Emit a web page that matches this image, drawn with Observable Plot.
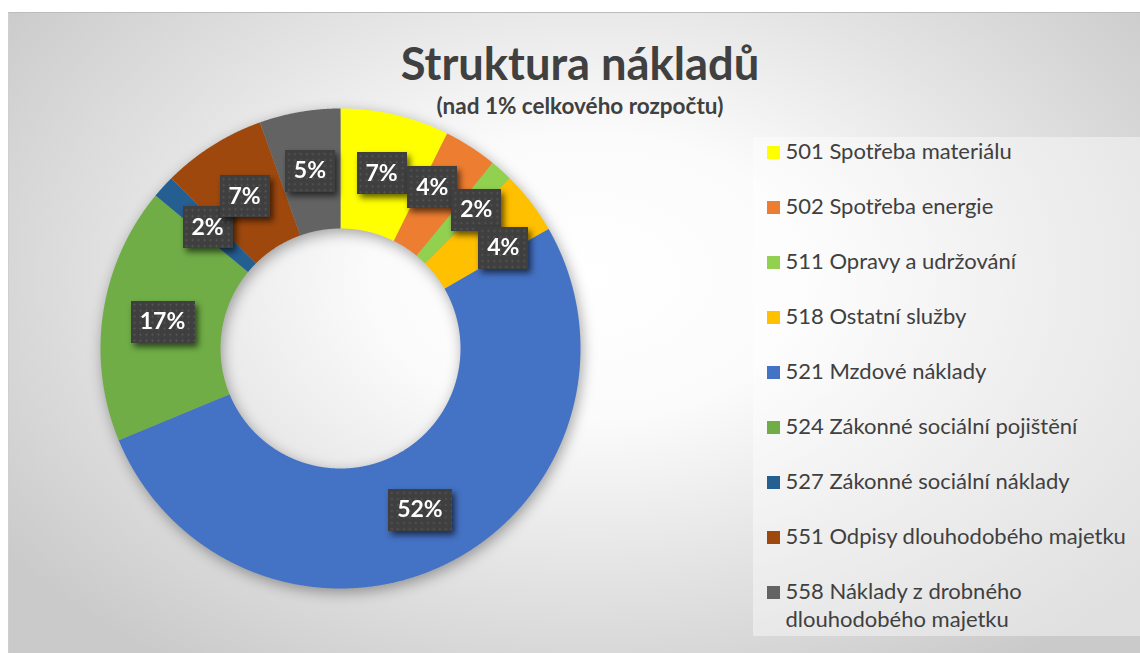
<!DOCTYPE html>
<html>
<head>
<meta charset="utf-8">
<script src="https://cdn.jsdelivr.net/npm/d3@7"></script>
<script src="https://cdn.jsdelivr.net/npm/@observablehq/plot@0.6"></script>
<style>
  html, body { margin: 0; padding: 0; background: #ffffff; }
  #chart { position: relative; width: 1140px; height: 653px; overflow: hidden; font-family: Lato, "Open Sans", sans-serif; }
  #frame {
    position: absolute; left: 8px; top: 12px; width: 1160px; height: 660px;
    border-top: 1px solid #bcbcbc; border-left: 1px solid #cfcfcf;
    background: radial-gradient(ellipse 62% 72% at 50% 40%, #ffffff 0%, #fbfbfb 30%, #e4e4e4 62%, #cacaca 100%);
  }
  #title {
    position: absolute; left: 0; width: 1160px; top: 40px; text-align: center;
    font-weight: 700; font-size: 45.3px; line-height: 1; color: #404040;
  }
  #subtitle {
    position: absolute; left: 0; width: 1160px; top: 95px; text-align: center;
    font-weight: 700; font-size: 22.5px; line-height: 1; color: #404040;
  }
  #donut { position: absolute; left: 80px; top: 88px; }
  #legendbox {
    position: absolute; left: 753px; top: 137px; width: 387px; height: 499px;
    background: rgba(255,255,255,0.42);
  }
  #legendbox svg, #donut svg { display: block; overflow: visible; }
  #donut g[aria-label="line"] { filter: drop-shadow(2px 4px 7px rgba(0,0,0,0.35)); }
</style>
</head>
<body>
<svg width="0" height="0" style="position:absolute">
  <defs>
    <filter id="box2" filterUnits="userSpaceOnUse" primitiveUnits="userSpaceOnUse" x="-40" y="-32" width="90" height="72" color-interpolation-filters="sRGB">
      <feFlood flood-color="#000" flood-opacity="0.6" x="-24.5" y="-20.5" width="49" height="41" result="s0"/>
      <feOffset in="s0" dx="3" dy="4" x="-40" y="-32" width="90" height="72" result="s1"/>
      <feGaussianBlur in="s1" stdDeviation="3" x="-40" y="-32" width="90" height="72" result="sh"/>
      <feFlood flood-color="#3f3f3f" x="-24.5" y="-20.5" width="49" height="41" result="bg"/>
      <feImage href="data:image/svg+xml,%3Csvg xmlns='http://www.w3.org/2000/svg' width='7' height='7'%3E%3Ccircle cx='3.5' cy='3.5' r='1.1' fill='%23585858'/%3E%3C/svg%3E" x="-24.5" y="-20.5" width="7" height="7" result="tile"/>
      <feTile in="tile" x="-24.5" y="-20.5" width="49" height="41" result="dots"/>
      <feMerge x="-40" y="-32" width="90" height="72">
        <feMergeNode in="sh"/><feMergeNode in="bg"/><feMergeNode in="dots"/><feMergeNode in="SourceGraphic"/>
      </feMerge>
    </filter>
    <filter id="box3" filterUnits="userSpaceOnUse" primitiveUnits="userSpaceOnUse" x="-46" y="-32" width="102" height="72" color-interpolation-filters="sRGB">
      <feFlood flood-color="#000" flood-opacity="0.6" x="-31.5" y="-20.5" width="63" height="41" result="s0"/>
      <feOffset in="s0" dx="3" dy="4" x="-46" y="-32" width="102" height="72" result="s1"/>
      <feGaussianBlur in="s1" stdDeviation="3" x="-46" y="-32" width="102" height="72" result="sh"/>
      <feFlood flood-color="#3f3f3f" x="-31.5" y="-20.5" width="63" height="41" result="bg"/>
      <feImage href="data:image/svg+xml,%3Csvg xmlns='http://www.w3.org/2000/svg' width='7' height='7'%3E%3Ccircle cx='3.5' cy='3.5' r='1.1' fill='%23585858'/%3E%3C/svg%3E" x="-31.5" y="-20.5" width="7" height="7" result="tile"/>
      <feTile in="tile" x="-31.5" y="-20.5" width="63" height="41" result="dots"/>
      <feMerge x="-46" y="-32" width="102" height="72">
        <feMergeNode in="sh"/><feMergeNode in="bg"/><feMergeNode in="dots"/><feMergeNode in="SourceGraphic"/>
      </feMerge>
    </filter>
  </defs>
</svg>
<div id="chart">
  <div id="frame"></div>
  <div id="title">Struktura nákladů</div>
  <div id="subtitle">(nad 1% celkového rozpočtu)</div>
  <div id="donut"></div>
  <div id="legendbox"></div>
</div>
<script>
// ---- data ----
const categories = [
  "501 Spotřeba materiálu",
  "502 Spotřeba energie",
  "511 Opravy a udržování",
  "518 Ostatní služby",
  "521 Mzdové náklady",
  "524 Zákonné sociální pojištění",
  "527 Zákonné sociální náklady",
  "551 Odpisy dlouhodobého majetku",
  "558 Náklady z drobného dlouhodobého majetku"
];
const shares = [7.33, 3.61, 1.54, 4.22, 52.06, 17.24, 1.55, 7.01, 5.44];
const colors = ["#FFFF00", "#ED7D31", "#92D050", "#FFC000", "#4472C4", "#70AD47", "#255E91", "#9E480E", "#636363"];

// ---- styling config (label nudges in px, Excel moved overlapping labels) ----
const nudges = {
  "502 Spotřeba energie": [-6, -10],
  "511 Opravy a udržování": [15, -5],
  "518 Ostatní služby": [20, 9]
};

const rows = categories.map((cat, i) => ({cat, share: shares[i]}));
const total = d3.sum(shares);
const outerR = 1, innerR = 0.5, labelR = 0.75;
const arcs = d3.pie().sort(null).value(d => d.share)(rows);

// ring outlines built from the pie angles
const ring = arcs.flatMap(a => {
  const n = Math.max(4, Math.ceil((a.endAngle - a.startAngle) / 0.004));
  const t = d3.range(n + 1).map(i => a.startAngle + (a.endAngle - a.startAngle) * i / n);
  const outer = t.map(v => ({cat: a.data.cat, x: outerR * Math.sin(v), y: outerR * Math.cos(v)}));
  const inner = t.slice().reverse().map(v => ({cat: a.data.cat, x: innerR * Math.sin(v), y: innerR * Math.cos(v)}));
  return outer.concat(inner);
});

const labels = arcs.map(a => {
  const m = (a.startAngle + a.endAngle) / 2;
  return {cat: a.data.cat, x: labelR * Math.sin(m), y: labelR * Math.cos(m),
          text: Math.round(a.data.share / total * 100) + "%"};
});

const labelStyle = {x: "x", y: "y", text: "text", fill: "white", fontWeight: "bold",
  fontSize: 23, fontFamily: "Lato, sans-serif", textAnchor: "middle"};

const labelMarks = [Plot.text(labels.filter(d => !nudges[d.cat]), labelStyle)];
for (const d of labels) {
  if (nudges[d.cat]) labelMarks.push(Plot.text([d], {...labelStyle, dx: nudges[d.cat][0], dy: nudges[d.cat][1]}));
}

const donut = Plot.plot({
  width: 520, height: 520,
  marginTop: 20, marginRight: 20, marginBottom: 20, marginLeft: 20,
  x: {domain: [-1, 1], axis: null},
  y: {domain: [-1, 1], axis: null},
  color: {domain: categories, range: colors},
  style: {background: "transparent", overflow: "visible"},
  marks: [
    Plot.line(ring, {x: "x", y: "y", z: "cat", fill: "cat", stroke: "none", curve: "linear-closed"}),
    ...labelMarks
  ]
});
document.getElementById("donut").appendChild(donut);
donut.querySelectorAll('g[aria-label="text"] text').forEach(t => {
  t.setAttribute("filter", t.textContent.length > 2 ? "url(#box3)" : "url(#box2)");
});

const legend = Plot.plot({
  width: 387, height: 499, margin: 0,
  x: {domain: [0, 1], axis: null},
  y: {type: "point", domain: categories, range: [15, 455], padding: 0, axis: null},
  color: {domain: categories, range: colors},
  style: {background: "transparent", overflow: "visible"},
  marks: [
    Plot.dot(categories, {y: d => d, fill: d => d, symbol: "square", r: 7.33, frameAnchor: "left", dx: 20, stroke: "none"}),
    Plot.text(categories, {y: d => d, text: d => d, frameAnchor: "left", textAnchor: "start", dx: 32, dy: -13,
      lineAnchor: "top", lineWidth: 18.3, lineHeight: 1.27, fontSize: 22, fill: "#404040", fontFamily: "Lato, sans-serif"})
  ]
});
document.getElementById("legendbox").appendChild(legend);
</script>
</body>
</html>
